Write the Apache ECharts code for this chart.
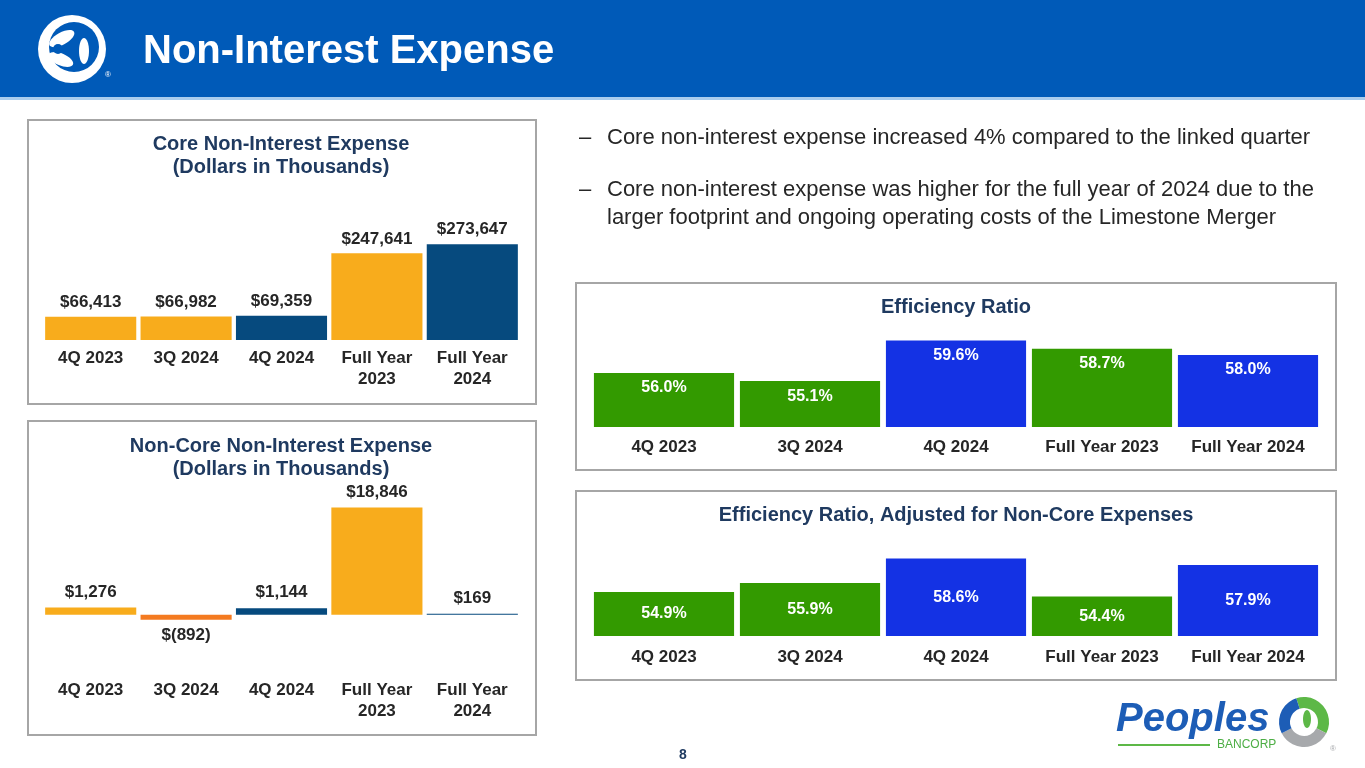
<!DOCTYPE html>
<html>
<head>
<meta charset="utf-8">
<script src="https://cdn.jsdelivr.net/npm/echarts@6/dist/echarts.min.js"></script>
<style>
html, body { margin: 0; padding: 0; background: #fff; }
#main { width: 1365px; height: 768px; }
</style>
</head>
<body>
<div id="main"></div>
<script>
// categories
var expCategories = ['4Q 2023', '3Q 2024', '4Q 2024', 'Full Year\n2023', 'Full Year\n2024'];
var effCategories = ['4Q 2023', '3Q 2024', '4Q 2024', 'Full Year 2023', 'Full Year 2024'];

// values (dollars in thousands / percent)
var coreExpense = [66413, 66982, 69359, 247641, 273647];
var nonCoreExpense = [1276, -892, 1144, 18846, 169];
var efficiencyRatio = [56.0, 55.1, 59.6, 58.7, 58.0];
var adjEfficiencyRatio = [54.9, 55.9, 58.6, 54.4, 57.9];

// bar colours (style only)
var GOLD = '#F8AC1C', NAVY = '#064A7E', ORANGE = '#F47A20', GREEN = '#339A00', BLUE = '#1432E4';
var coreColors = [GOLD, GOLD, NAVY, GOLD, NAVY];
var nonCoreColors = [GOLD, ORANGE, NAVY, GOLD, NAVY];
var effColors = [GREEN, GREEN, BLUE, GREEN, BLUE];

var FONT = '"Liberation Sans", Arial, Helvetica, sans-serif';
var TXT = '#262626';
var TITLE = '#1F3A60';

function dollars(v) {
    var s = Math.abs(v).toLocaleString('en-US');
    return v < 0 ? '$(' + s + ')' : '$' + s;
}

function colored(values, colors) {
    return values.map(function (v, i) {
        return { value: v, itemStyle: { color: colors[i] } };
    });
}

function catAxis(gridIndex, cats, margin) {
    return {
        type: 'category', gridIndex: gridIndex, data: cats,
        axisLine: { show: false, onZero: false }, axisTick: { show: false },
        axisLabel: {
            interval: 0, margin: margin, color: TXT, fontFamily: FONT,
            fontWeight: 'bold', fontSize: 17, lineHeight: 21
        }
    };
}

function valAxis(gridIndex, min, max) {
    return {
        type: 'value', gridIndex: gridIndex, min: min, max: max,
        show: false, splitLine: { show: false }
    };
}

var chart = echarts.init(document.getElementById('main'));

var option = {
    animation: false,
    backgroundColor: '#fff',
    grid: [
        { left: 43, width: 477, top: 235, height: 105 },
        { left: 43, width: 477, top: 501, height: 125 },
        { left: 591, width: 730, top: 319, height: 108 },
        { left: 591, width: 730, top: 528, height: 108 }
    ],
    xAxis: [
        catAxis(0, expCategories, 8),
        catAxis(1, expCategories, 54),
        catAxis(2, effCategories, 10),
        catAxis(3, effCategories, 11)
    ],
    yAxis: [
        valAxis(0, 0, 300000),
        valAxis(1, -2000, 20000),
        valAxis(2, 50, 62),
        valAxis(3, 50, 62)
    ],
    series: [
        {
            type: 'bar', xAxisIndex: 0, yAxisIndex: 0, barCategoryGap: '4.5%',
            data: colored(coreExpense, coreColors),
            label: {
                show: true, position: 'top', distance: 6, color: TXT,
                fontFamily: FONT, fontWeight: 'bold', fontSize: 17,
                formatter: function (p) { return dollars(p.value); }
            }
        },
        {
            type: 'bar', xAxisIndex: 1, yAxisIndex: 1, barCategoryGap: '4.5%',
            data: colored(nonCoreExpense, nonCoreColors).map(function (d) {
                d.label = { position: d.value < 0 ? 'bottom' : 'top' };
                return d;
            }),
            label: {
                show: true, distance: 7, color: TXT,
                fontFamily: FONT, fontWeight: 'bold', fontSize: 17,
                formatter: function (p) { return dollars(p.value); }
            }
        },
        {
            type: 'bar', xAxisIndex: 2, yAxisIndex: 2, barCategoryGap: '4%',
            data: colored(efficiencyRatio, effColors),
            label: {
                show: true, position: 'insideTop', distance: 7, color: '#fff',
                fontFamily: FONT, fontWeight: 'bold', fontSize: 16,
                formatter: function (p) { return p.value.toFixed(1) + '%'; }
            }
        },
        {
            type: 'bar', xAxisIndex: 3, yAxisIndex: 3, barCategoryGap: '4%',
            data: colored(adjEfficiencyRatio, effColors),
            label: {
                show: true, position: 'inside', color: '#fff',
                fontFamily: FONT, fontWeight: 'bold', fontSize: 16,
                formatter: function (p) { return p.value.toFixed(1) + '%'; }
            }
        }
    ],
    graphic: [
        // header band
        { type: 'rect', shape: { x: 0, y: 0, width: 1365, height: 97 }, style: { fill: '#005AB8' }, z: -10 },
        { type: 'rect', shape: { x: 0, y: 97, width: 1365, height: 3 }, style: { fill: '#A9CDEE' }, z: -10 },
        {
            type: 'text', x: 143, y: 52,
            style: {
                text: 'Non-Interest Expense', fill: '#fff', font: 'bold 40px ' + FONT,
                textVerticalAlign: 'middle'
            }
        },
        // header emblem
        {
            type: 'group', x: 72, y: 49,
            children: [
                { type: 'circle', shape: { cx: 0, cy: 0, r: 34 }, style: { fill: '#fff' } },
                { type: 'circle', shape: { cx: 2, cy: -2, r: 25 }, style: { fill: '#005AB8' } },
                { type: 'ellipse', shape: { cx: -4, cy: -14, rx: 14, ry: 6 }, rotation: 0.5, style: { fill: '#fff' } },
                { type: 'ellipse', shape: { cx: 12, cy: 2, rx: 5, ry: 13 }, style: { fill: '#fff' } },
                { type: 'ellipse', shape: { cx: -6, cy: 14, rx: 13, ry: 6 }, rotation: -0.4, style: { fill: '#fff' } },
                { type: 'circle', shape: { cx: -14, cy: 0, r: 5 }, style: { fill: '#005AB8' } },
                { type: 'text', x: 33, y: 22, style: { text: '®', fill: '#fff', font: '8px ' + FONT } }
            ]
        },
        // boxes
        { type: 'rect', shape: { x: 28, y: 120, width: 508, height: 284 }, style: { fill: 'none', stroke: '#A6A6A6', lineWidth: 2 }, z: -5 },
        { type: 'rect', shape: { x: 28, y: 421, width: 508, height: 314 }, style: { fill: 'none', stroke: '#A6A6A6', lineWidth: 2 }, z: -5 },
        { type: 'rect', shape: { x: 576, y: 283, width: 760, height: 187 }, style: { fill: 'none', stroke: '#A6A6A6', lineWidth: 2 }, z: -5 },
        { type: 'rect', shape: { x: 576, y: 491, width: 760, height: 189 }, style: { fill: 'none', stroke: '#A6A6A6', lineWidth: 2 }, z: -5 },
        // chart titles
        {
            type: 'text', x: 281, y: 156,
            style: {
                text: 'Core Non-Interest Expense\n(Dollars in Thousands)', fill: TITLE,
                font: 'bold 20px ' + FONT, lineHeight: 23, textAlign: 'center', textVerticalAlign: 'middle'
            }
        },
        {
            type: 'text', x: 281, y: 458,
            style: {
                text: 'Non-Core Non-Interest Expense\n(Dollars in Thousands)', fill: TITLE,
                font: 'bold 20px ' + FONT, lineHeight: 23, textAlign: 'center', textVerticalAlign: 'middle'
            }
        },
        {
            type: 'text', x: 956, y: 307,
            style: {
                text: 'Efficiency Ratio', fill: TITLE, font: 'bold 20px ' + FONT,
                textAlign: 'center', textVerticalAlign: 'middle'
            }
        },
        {
            type: 'text', x: 956, y: 515,
            style: {
                text: 'Efficiency Ratio, Adjusted for Non-Core Expenses', fill: TITLE, font: 'bold 20px ' + FONT,
                textAlign: 'center', textVerticalAlign: 'middle'
            }
        },
        // bullets
        { type: 'text', x: 579, y: 138, style: { text: '–', fill: TXT, font: '22px ' + FONT, textVerticalAlign: 'middle' } },
        {
            type: 'text', x: 607, y: 138,
            style: { text: 'Core non-interest expense increased 4% compared to the linked quarter', fill: TXT, font: '22px ' + FONT, textVerticalAlign: 'middle' }
        },
        { type: 'text', x: 579, y: 190, style: { text: '–', fill: TXT, font: '22px ' + FONT, textVerticalAlign: 'middle' } },
        {
            type: 'text', x: 607, y: 204,
            style: {
                text: 'Core non-interest expense was higher for the full year of 2024 due to the\nlarger footprint and ongoing operating costs of the Limestone Merger',
                fill: TXT, font: '22px ' + FONT, lineHeight: 28, textVerticalAlign: 'middle'
            }
        },
        // page number
        { type: 'text', x: 683, y: 755, style: { text: '8', fill: TITLE, font: 'bold 14px ' + FONT, textAlign: 'center', textVerticalAlign: 'middle' } },
        // Peoples Bancorp logo
        {
            type: 'text', x: 1116, y: 720,
            style: { text: 'Peoples', fill: '#1D5DB6', font: 'italic bold 40px ' + FONT, textVerticalAlign: 'middle' }
        },
        { type: 'line', shape: { x1: 1118, y1: 745, x2: 1210, y2: 745 }, style: { stroke: '#5DB847', lineWidth: 2 } },
        {
            type: 'text', x: 1217, y: 745,
            style: { text: 'BANCORP', fill: '#4DAE45', font: '12px ' + FONT, textVerticalAlign: 'middle' }
        },
        {
            type: 'group', x: 1304, y: 722,
            children: [
                { type: 'sector', shape: { cx: 0, cy: 0, r: 25, r0: 14, startAngle: -Math.PI * 0.6, endAngle: Math.PI * 0.15 }, style: { fill: '#5DB847' } },
                { type: 'sector', shape: { cx: 0, cy: 0, r: 25, r0: 14, startAngle: Math.PI * 0.15, endAngle: Math.PI * 0.85 }, style: { fill: '#A7A9AC' } },
                { type: 'sector', shape: { cx: 0, cy: 0, r: 25, r0: 14, startAngle: Math.PI * 0.85, endAngle: Math.PI * 1.4 }, style: { fill: '#1D5DB6' } },
                { type: 'ellipse', shape: { cx: 3, cy: -3, rx: 4, ry: 9 }, style: { fill: '#5DB847' } },
                { type: 'text', x: 26, y: 23, style: { text: '®', fill: '#A7A9AC', font: '8px ' + FONT } }
            ]
        }
    ]
};

chart.setOption(option);
</script>
</body>
</html>
